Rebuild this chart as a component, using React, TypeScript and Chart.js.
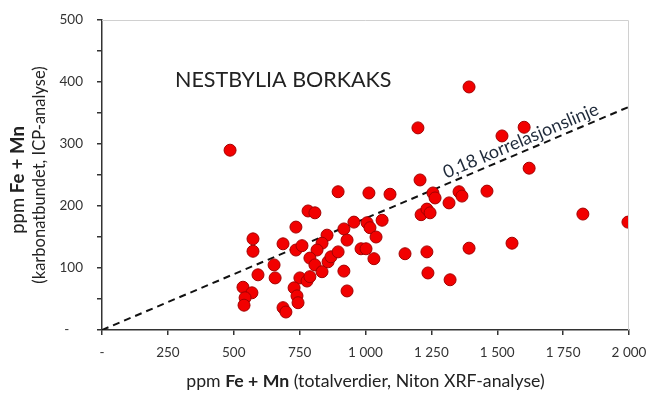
import React, { useEffect, useRef } from 'react';
import { Chart, registerables } from 'chart.js';

Chart.register(...registerables);

// ppm Fe + Mn, total (Niton XRF)
const xfeMnXrf: number[] = [
  486, 1393, 1199, 1602, 1518, 1621, 1207, 896, 1013, 1093,
  1256, 1264, 1317, 1355, 1366, 1461, 1211, 1233, 1245, 782,
  808, 736, 918, 956, 1006, 1017, 1063, 1040, 573, 573,
  687, 854, 835, 930, 736, 759, 816, 789, 808, 835,
  858, 869, 896, 653, 592, 657, 751, 778, 789, 535,
  569, 543, 539, 729, 740, 744, 687, 698, 918, 930,
  983, 1002, 1032, 1150, 1233, 1237, 1321, 1393, 1556, 1825,
  1996,
];
// ppm Fe + Mn, carbonate-bound (ICP)
const yfeMnIcp: number[] = [
  290, 392, 326, 327, 313, 261, 242, 223, 221, 219,
  221, 213, 205, 223, 216, 224, 186, 195, 189, 192,
  189, 166, 163, 174, 173, 165, 177, 150, 147, 127,
  139, 153, 140, 145, 129, 136, 129, 116, 105, 94,
  110, 118, 126, 105, 89, 84, 84, 79, 86, 69,
  60, 52, 40, 68, 55, 44, 36, 29, 95, 63,
  131, 131, 115, 123, 126, 92, 81, 132, 140, 187,
  174,
];
// correlation line (slope 0.18)
const lineX: number[] = [0, 2000];
const lineY: number[] = [0, 360];

const chartTitle = 'NESTBYLIA BORKAKS';
const lineLabel = '0,18 korrelasjonslinje';
const xTitleParts: [string, boolean][] = [['ppm ', false], ['Fe + Mn', true], [' (totalverdier, Niton XRF-analyse)', false]];
const yTitle1Parts: [string, boolean][] = [['ppm ', false], ['Fe + Mn', true]];
const yTitle2 = '(karbonatbundet, ICP-analyse)';

const FONT = 'Lato, "Open Sans", sans-serif';

function fmtX(v: number): string {
  if (v === 0) return '-';
  if (v >= 1000) return `${Math.floor(v / 1000)} ${String(v % 1000).padStart(3, '0')}`;
  return String(v);
}

function drawParts(ctx: CanvasRenderingContext2D, parts: [string, boolean][], size: number, cx: number, cy: number) {
  const widths = parts.map(([t, b]) => {
    ctx.font = `${b ? 'bold ' : ''}${size}px ${FONT}`;
    return ctx.measureText(t).width;
  });
  const total = widths.reduce((a, b) => a + b, 0);
  let x = cx - total / 2;
  ctx.textAlign = 'left';
  ctx.textBaseline = 'middle';
  parts.forEach(([t, b], i) => {
    ctx.font = `${b ? 'bold ' : ''}${size}px ${FONT}`;
    ctx.fillText(t, x, cy);
    x += widths[i];
  });
}

const decorPlugin = {
  id: 'decor',
  afterDraw(chart: any) {
    const { ctx, chartArea: a, scales } = chart;
    const xs = scales.x;
    const ys = scales.y;
    ctx.save();
    // light frame top/right
    ctx.strokeStyle = '#d0d0d0';
    ctx.lineWidth = 1;
    ctx.beginPath();
    ctx.moveTo(a.left, a.top + 0.5);
    ctx.lineTo(a.right - 0.5, a.top + 0.5);
    ctx.lineTo(a.right - 0.5, a.bottom);
    ctx.stroke();

    ctx.fillStyle = '#222';
    // chart title
    ctx.font = `21.5px ${FONT}`;
    ctx.textAlign = 'left';
    ctx.textBaseline = 'alphabetic';
    ctx.fillText(chartTitle, 175, 87);

    // x title
    drawParts(ctx, xTitleParts, 17.7, (a.left + a.right) / 2, 381);

    // y titles
    const cy = (a.top + a.bottom) / 2;
    ctx.save();
    ctx.translate(18, cy + 5);
    ctx.rotate(-Math.PI / 2);
    drawParts(ctx, yTitle1Parts, 18.5, 0, 0);
    ctx.restore();
    ctx.save();
    ctx.translate(40, cy);
    ctx.rotate(-Math.PI / 2);
    ctx.font = `16.5px ${FONT}`;
    ctx.textAlign = 'center';
    ctx.textBaseline = 'middle';
    ctx.fillText(yTitle2, 0, 0);
    ctx.restore();

    // line label
    const x0 = 1300, x1 = 2000;
    const p0x = xs.getPixelForValue(x0), p0y = ys.getPixelForValue(0.18 * x0);
    const p1x = xs.getPixelForValue(x1), p1y = ys.getPixelForValue(0.18 * x1);
    const ang = Math.atan2(p1y - p0y, p1x - p0x);
    ctx.save();
    ctx.translate(p0x, p0y);
    ctx.rotate(ang);
    ctx.font = `18px ${FONT}`;
    ctx.textAlign = 'left';
    ctx.textBaseline = 'alphabetic';
    ctx.fillStyle = '#1f2a3a';
    ctx.fillText(lineLabel, 4, -5);
    ctx.restore();
    ctx.restore();
  },
};

export default function App() {
  const ref = useRef<HTMLCanvasElement | null>(null);
  useEffect(() => {
    if (!ref.current) return;
    const chart = new Chart(ref.current, {
      type: 'scatter',
      data: {
        datasets: [
          {
            label: 'Prøver',
            data: xfeMnXrf.map((x, i) => ({ x, y: yfeMnIcp[i] })),
            backgroundColor: '#f20000',
            borderColor: '#a30000',
            borderWidth: 1,
            pointRadius: 6,
            order: 1,
          },
          {
            label: 'Korrelasjonslinje',
            data: lineX.map((x, i) => ({ x, y: lineY[i] })),
            showLine: true,
            borderColor: '#111',
            borderWidth: 2,
            borderDash: [7, 5],
            pointRadius: 0,
            order: 2,
          } as any,
        ],
      },
      options: {
        animation: false,
        responsive: false,
        maintainAspectRatio: false,
        layout: { padding: { top: 20, right: 19, left: 0, bottom: 0 } },
        plugins: { legend: { display: false }, tooltip: { enabled: false }, title: { display: false } },
        scales: {
          x: {
            type: 'linear',
            min: 0,
            max: 2000,
            ticks: {
              stepSize: 250,
              autoSkip: false,
              maxRotation: 0,
              padding: 10,
              color: '#333',
              font: { family: FONT, size: 13.5 },
              callback: (v: any) => fmtX(Number(v)),
            },
            grid: { drawOnChartArea: false, tickLength: 5, color: '#333', lineWidth: 1.5 },
            border: { color: '#333', width: 1.5 },
            afterFit: (s: any) => { s.height = 64; s.paddingLeft = 0; s.paddingRight = 0; },
          },
          y: {
            type: 'linear',
            min: 0,
            max: 500,
            ticks: {
              stepSize: 50,
              autoSkip: false,
              padding: 14,
              color: '#333',
              font: { family: FONT, size: 13.5 },
              callback: (v: any) => {
                const n = Number(v);
                if (n === 0) return '-    ';
                return n % 100 === 0 ? String(n) : '';
              },
            },
            grid: { drawOnChartArea: false, tickLength: 5, color: '#333', lineWidth: 1.5 },
            border: { color: '#333', width: 1.5 },
            afterFit: (s: any) => { s.width = 102; s.paddingTop = 0; s.paddingBottom = 0; },
          },
        },
      },
      plugins: [decorPlugin],
    });
    return () => chart.destroy();
  }, []);
  return (
    <div style={{ position: 'fixed', left: 0, top: 0, width: 648, height: 394, background: '#fff' }}>
      <canvas ref={ref} width={648} height={394} style={{ width: 648, height: 394 }} />
    </div>
  );
}
